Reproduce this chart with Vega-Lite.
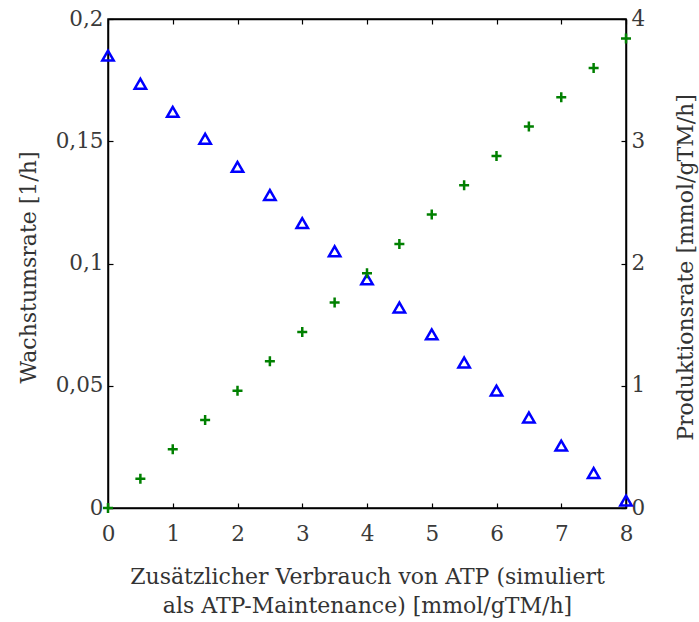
{
  "$schema": "https://vega.github.io/schema/vega-lite/v6.json",
  "width": 518,
  "height": 489,
  "autosize": "none",
  "padding": {"left": 108, "top": 19, "right": 73, "bottom": 114},
  "background": "white",
  "config": {
    "view": {"stroke": "black", "strokeWidth": 1.5},
    "font": "DejaVu Serif",
    "axis": {
      "grid": false,
      "domainColor": "black",
      "domainWidth": 1.5,
      "tickColor": "black",
      "tickWidth": 1.2,
      "tickSize": -5,
      "labelFont": "DejaVu Serif",
      "labelFontSize": 21.5,
      "labelColor": "#3a3a3a",
      "titleFont": "DejaVu Serif",
      "titleFontSize": 22,
      "titleFontWeight": "normal",
      "titleColor": "#333",
      "labelFlush": false
    }
  },
  "data": {
    "values": [
      {"x": 0, "w": 0.185, "p": 0.0},
      {"x": 0.5, "w": 0.1735, "p": 0.24},
      {"x": 1, "w": 0.162, "p": 0.48},
      {"x": 1.5, "w": 0.151, "p": 0.72},
      {"x": 2, "w": 0.1395, "p": 0.96},
      {"x": 2.5, "w": 0.128, "p": 1.2},
      {"x": 3, "w": 0.1165, "p": 1.44},
      {"x": 3.5, "w": 0.105, "p": 1.68},
      {"x": 4, "w": 0.0935, "p": 1.92},
      {"x": 4.5, "w": 0.082, "p": 2.16},
      {"x": 5, "w": 0.071, "p": 2.4},
      {"x": 5.5, "w": 0.0595, "p": 2.64},
      {"x": 6, "w": 0.048, "p": 2.88},
      {"x": 6.5, "w": 0.037, "p": 3.12},
      {"x": 7, "w": 0.0255, "p": 3.36},
      {"x": 7.5, "w": 0.0143, "p": 3.6},
      {"x": 8, "w": 0.003, "p": 3.84}
    ]
  },
  "layer": [
    {
      "mark": {"type": "point", "shape": "triangle-up", "filled": false, "stroke": "#0000ff", "strokeWidth": 2.5, "size": 130, "opacity": 1},
      "encoding": {
        "x": {"field": "x", "type": "quantitative", "scale": {"domain": [0, 8], "nice": false},
          "axis": {"values": [0,1,2,3,4,5,6,7,8], "labelPadding": 20, "title": ["Zusätzlicher Verbrauch von ATP (simuliert", "als ATP-Maintenance) [mmol/gTM/h]"], "titleX": 259, "titleY": 68, "titleAlign": "center", "titleBaseline": "middle", "titleLineHeight": 29}},
        "y": {"field": "w", "type": "quantitative", "scale": {"domain": [0, 0.2], "nice": false},
          "axis": {"values": [0, 0.05, 0.1, 0.15, 0.2], "labelExpr": "replace(format(datum.value, '~g'), '.', ',')", "labelPadding": 10, "title": "Wachstumsrate [1/h]", "titleX": -80, "titleY": 248, "titleAngle": -90, "titleAlign": "center", "titleBaseline": "middle"}}
      }
    },
    {
      "mark": {"type": "point", "shape": "M-1,0H1M0,-1V1", "filled": false, "stroke": "#008000", "strokeWidth": 2.5, "size": 100, "opacity": 1},
      "encoding": {
        "x": {"field": "x", "type": "quantitative", "scale": {"domain": [0, 8], "nice": false},
          "axis": {"orient": "top", "values": [0,1,2,3,4,5,6,7,8], "labels": false, "title": null}},
        "y": {"field": "p", "type": "quantitative", "scale": {"domain": [0, 4], "nice": false},
          "axis": {"orient": "right", "values": [0,1,2,3,4], "labelPadding": 10, "title": "Produktionsrate [mmol/gTM/h]", "titleX": 59, "titleY": 248, "titleAngle": -90, "titleAlign": "center", "titleBaseline": "middle"}}
      }
    }
  ],
  "resolve": {"scale": {"y": "independent"}, "axis": {"x": "independent"}}
}
